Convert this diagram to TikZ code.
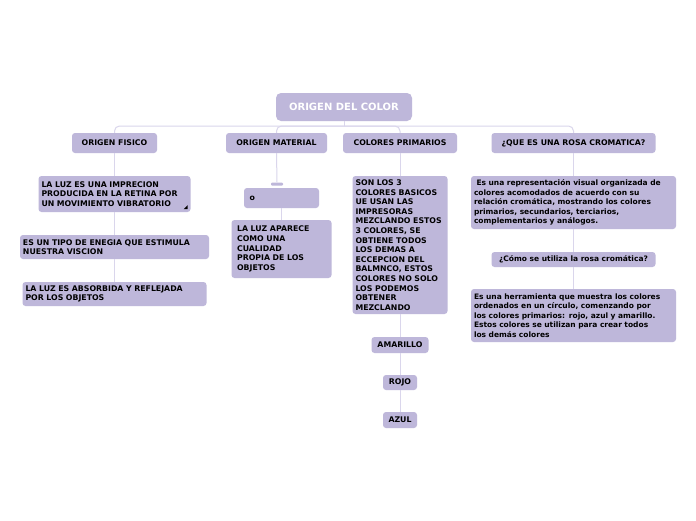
\documentclass[tikz,border=0pt]{standalone}
\usepackage{fontspec}
\setmainfont{DejaVu Sans}
\usepackage{xcolor}
\usepackage{tikz}

\definecolor{lila}{HTML}{BEB7DA}
\definecolor{linea}{HTML}{DAD6EC}

\tikzset{
  caja/.style={fill=lila, rounded corners=3pt, inner xsep=3pt, inner ysep=2pt,
    font=\fontsize{7.8}{9.6}\selectfont\bfseries, align=left, text=black,
    execute at begin node={\hyphenpenalty=10000\relax}},
  minus/.style={caja, font=\fontsize{7.5}{9.6}\selectfont\bfseries},
  titulo/.style={caja, align=center, minimum height=20pt},
  conector/.style={draw=linea, line width=1pt},
}

\begin{document}
\begin{tikzpicture}[x=1pt,y=-1pt]
\useasboundingbox[fill=white] (0,0) rectangle (696,520);
\node[caja, align=center, text=white, font=\fontsize{10}{12}\selectfont\bfseries, minimum width=136pt, minimum height=28pt, rounded corners=5pt] (origen) at (344,107) {ORIGEN DEL COLOR};
\coordinate (tronco) at (344,126);

\node[titulo, minimum width=85pt] (fis) at (114.5,143) {ORIGEN FISICO};
\node[titulo, minimum width=101pt] (mat) at (276.5,143) {ORIGEN MATERIAL};
\node[titulo, minimum width=114pt] (pri) at (400,143) {COLORES PRIMARIOS};
\node[titulo, minimum width=164pt] (rosa) at (573.5,143) {¿QUE ES UNA ROSA CROMATICA?};

% origen fisico
\node[caja, text width=146pt, minimum height=36pt] (fis1) at (114.5,194) {LA LUZ ES UNA IMPRECION\\PRODUCIDA EN LA RETINA POR\\UN MOVIMIENTO VIBRATORIO};
\fill (fis1.south east) ++(-3,-3) -- ++(0,-4) -- ++(-4,4) -- cycle;
\node[caja, text width=183pt, minimum height=24pt] (fis2) at (114.5,247) {ES UN TIPO DE ENEGIA QUE ESTIMULA\\NUESTRA VISCION};
\node[caja, text width=178pt, minimum height=24pt] (fis3) at (114.5,294) {LA LUZ ES ABSORBIDA Y REFLEJADA\\POR LOS OBJETOS};

% origen material
\node[fill=lila, minimum width=12pt, minimum height=3pt, inner sep=0pt, rounded corners=1pt] (mat0) at (277,184) {};
\node[caja, text width=69pt, minimum height=20pt] (mat1) at (281.5,198) {\ o};
\node[caja, text width=94pt, minimum height=58pt] (mat2) at (281.5,249) {\ LA LUZ APARECE\\\ COMO UNA\\\ CUALIDAD\\\ PROPIA DE LOS\\\ OBJETOS};

% colores primarios
\node[caja, text width=89pt, minimum height=138pt] (pri1) at (400,245) {SON LOS 3\\COLORES BASICOS\\UE USAN LAS\\IMPRESORAS\\MEZCLANDO ESTOS\\3 COLORES, SE\\OBTIENE TODOS\\LOS DEMAS A\\ECCEPCION DEL\\BALMNCO, ESTOS\\COLORES NO SOLO\\LOS PODEMOS\\OBTENER\\MEZCLANDO};
\node[titulo, minimum width=57pt, minimum height=16pt] (pri2) at (400,345) {AMARILLO};
\node[titulo, minimum width=34pt, minimum height=15pt] (pri3) at (400,382.5) {ROJO};
\node[titulo, minimum width=34pt, minimum height=16pt] (pri4) at (400,420) {AZUL};

% rosa cromatica
\node[minus, text width=199pt, minimum height=53pt] (rosa1) at (573.5,202.5) {\ Es una representación visual organizada de\\colores acomodados de acuerdo con su\\relación cromática, mostrando los colores\\primarios, secundarios, terciarios,\\complementarios y análogos.};
\node[minus, align=center, minimum width=164pt, minimum height=15pt] (rosa2) at (573.5,259.5) {¿Cómo se utiliza la rosa cromática?};
\node[minus, text width=199pt, minimum height=53pt] (rosa3) at (573.5,315.5) {Es una herramienta que muestra los colores\\ordenados en un círculo, comenzando por\\los colores primarios: rojo, azul y amarillo.\\Estos colores se utilizan para crear todos\\los demás colores};

% conectores
\draw[conector] (origen.south) -- (tronco);
\foreach \n in {fis,mat,pri,rosa}
  \draw[conector, rounded corners=5pt] (tronco) -| (\n.north);
\draw[conector] (fis.south) -- (fis1.north);
\draw[conector] (fis1.south) -- (fis2.north);
\draw[conector] (fis2.south) -- (fis3.north);
\draw[conector] (mat.south) -- (mat0.north);
\draw[conector] (mat1.south) -- (mat2.north);
\draw[conector] (pri.south) -- (pri1.north);
\draw[conector] (pri1.south) -- (pri2.north);
\draw[conector] (pri2.south) -- (pri3.north);
\draw[conector] (pri3.south) -- (pri4.north);
\draw[conector] (rosa.south) -- (rosa1.north);
\draw[conector] (rosa1.south) -- (rosa2.north);
\draw[conector] (rosa2.south) -- (rosa3.north);
\end{tikzpicture}
\end{document}
